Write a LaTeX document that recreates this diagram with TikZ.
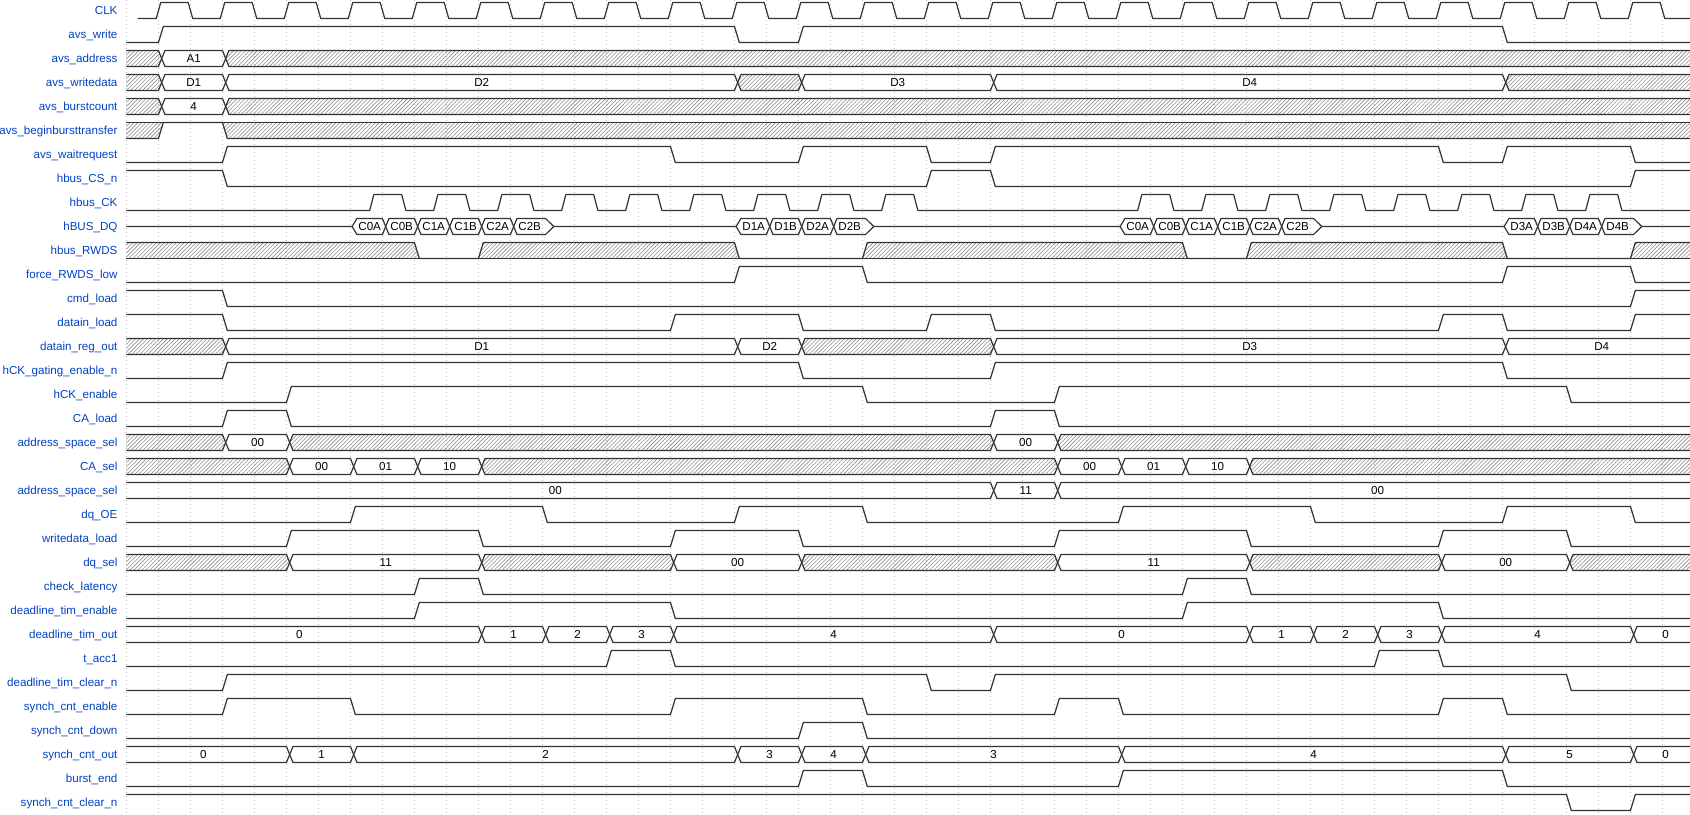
\documentclass[tikz,border=0pt]{standalone}
\usepackage{fontspec}
\setmainfont{Liberation Sans}
\usepackage{tikz}
\usetikzlibrary{patterns.meta}
\definecolor{wdblue}{HTML}{0041C4}

\begin{document}
\begin{tikzpicture}[x=16pt,y=-12pt,line join=round,
  wave/.style={draw=black!80,line width=0.6pt},
  hatch/.style={pattern={Lines[angle=45,distance=1.4pt,line width=0.3pt]},pattern color=black!45},
  gridln/.style={draw=black!25,line width=0.5pt,dash pattern=on 0.5pt off 1.5pt},
  lbl/.style={anchor=base east,inner sep=0pt,text=wdblue,font=\fontsize{5.8}{7}\selectfont},
  val/.style={anchor=base,inner sep=0pt,font=\fontsize{5.8}{7}\selectfont}]
  \useasboundingbox (-3.953,-0.4375) rectangle (48.86,33.52);
  \foreach \g in {0,...,48}
    \draw[gridln] (\g,-0.4375) -- (\g,33.52);
  \node[lbl] (lbl-CLK) at (-0.27,0.17) {CLK};
  \node[lbl] (lbl-avs_write) at (-0.27,1.17) {avs\_write};
  \node[lbl] (lbl-avs_address) at (-0.27,2.17) {avs\_address};
  \node[lbl] (lbl-avs_writedata) at (-0.27,3.17) {avs\_writedata};
  \node[lbl] (lbl-avs_burstcount) at (-0.27,4.17) {avs\_burstcount};
  \node[lbl] (lbl-avs_beginbursttransfer) at (-0.27,5.17) {avs\_beginbursttransfer};
  \node[lbl] (lbl-avs_waitrequest) at (-0.27,6.17) {avs\_waitrequest};
  \node[lbl] (lbl-hbus_CS_n) at (-0.27,7.17) {hbus\_CS\_n};
  \node[lbl] (lbl-hbus_CK) at (-0.27,8.17) {hbus\_CK};
  \node[lbl] (lbl-hBUS_DQ) at (-0.27,9.17) {hBUS\_DQ};
  \node[lbl] (lbl-hbus_RWDS) at (-0.27,10.17) {hbus\_RWDS};
  \node[lbl] (lbl-force_RWDS_low) at (-0.27,11.17) {force\_RWDS\_low};
  \node[lbl] (lbl-cmd_load) at (-0.27,12.17) {cmd\_load};
  \node[lbl] (lbl-datain_load) at (-0.27,13.17) {datain\_load};
  \node[lbl] (lbl-datain_reg_out) at (-0.27,14.17) {datain\_reg\_out};
  \node[lbl] (lbl-hCK_gating_enable_n) at (-0.27,15.17) {hCK\_gating\_enable\_n};
  \node[lbl] (lbl-hCK_enable) at (-0.27,16.17) {hCK\_enable};
  \node[lbl] (lbl-CA_load) at (-0.27,17.17) {CA\_load};
  \node[lbl] (lbl-address_space_sel-a) at (-0.27,18.17) {address\_space\_sel};
  \node[lbl] (lbl-CA_sel) at (-0.27,19.17) {CA\_sel};
  \node[lbl] (lbl-address_space_sel-b) at (-0.27,20.17) {address\_space\_sel};
  \node[lbl] (lbl-dq_OE) at (-0.27,21.17) {dq\_OE};
  \node[lbl] (lbl-writedata_load) at (-0.27,22.17) {writedata\_load};
  \node[lbl] (lbl-dq_sel) at (-0.27,23.17) {dq\_sel};
  \node[lbl] (lbl-check_latency) at (-0.27,24.17) {check\_latency};
  \node[lbl] (lbl-deadline_tim_enable) at (-0.27,25.17) {deadline\_tim\_enable};
  \node[lbl] (lbl-deadline_tim_out) at (-0.27,26.17) {deadline\_tim\_out};
  \node[lbl] (lbl-t_acc1) at (-0.27,27.17) {t\_acc1};
  \node[lbl] (lbl-deadline_tim_clear_n) at (-0.27,28.17) {deadline\_tim\_clear\_n};
  \node[lbl] (lbl-synch_cnt_enable) at (-0.27,29.17) {synch\_cnt\_enable};
  \node[lbl] (lbl-synch_cnt_down) at (-0.27,30.17) {synch\_cnt\_down};
  \node[lbl] (lbl-synch_cnt_out) at (-0.27,31.17) {synch\_cnt\_out};
  \node[lbl] (lbl-burst_end) at (-0.27,32.17) {burst\_end};
  \node[lbl] (lbl-synch_cnt_clear_n) at (-0.27,33.17) {synch\_cnt\_clear\_n};
  \fill[hatch] (0,1.67) -- (1,1.67) -- (1.1,2) -- (1,2.33) -- (0,2.33) -- cycle;
  \fill[hatch] (3.1,2) -- (3.2,1.67) -- (48.86,1.67) -- (48.86,2.33) -- (3.2,2.33) -- cycle;
  \fill[hatch] (0,2.67) -- (1,2.67) -- (1.1,3) -- (1,3.33) -- (0,3.33) -- cycle;
  \fill[hatch] (19.1,3) -- (19.2,2.67) -- (21,2.67) -- (21.1,3) -- (21,3.33) -- (19.2,3.33) -- cycle;
  \fill[hatch] (43.1,3) -- (43.2,2.67) -- (48.86,2.67) -- (48.86,3.33) -- (43.2,3.33) -- cycle;
  \fill[hatch] (0,3.67) -- (1,3.67) -- (1.1,4) -- (1,4.33) -- (0,4.33) -- cycle;
  \fill[hatch] (3.1,4) -- (3.2,3.67) -- (48.86,3.67) -- (48.86,4.33) -- (3.2,4.33) -- cycle;
  \fill[hatch] (0,4.67) -- (1.15,4.67) -- (1,5.33) -- (0,5.33) -- cycle;
  \fill[hatch] (3,4.67) -- (48.86,4.67) -- (48.86,5.33) -- (3.15,5.33) -- cycle;
  \fill[hatch] (0,9.67) -- (9,9.67) -- (9.15,10.33) -- (0,10.33) -- cycle;
  \fill[hatch] (11,10.33) -- (11.15,9.67) -- (19,9.67) -- (19.15,10.33) -- cycle;
  \fill[hatch] (23,10.33) -- (23.15,9.67) -- (33,9.67) -- (33.15,10.33) -- cycle;
  \fill[hatch] (35,10.33) -- (35.15,9.67) -- (43,9.67) -- (43.15,10.33) -- cycle;
  \fill[hatch] (47,10.33) -- (47.15,9.67) -- (48.86,9.67) -- (48.86,10.33) -- cycle;
  \fill[hatch] (0,13.67) -- (3,13.67) -- (3.1,14) -- (3,14.33) -- (0,14.33) -- cycle;
  \fill[hatch] (21.1,14) -- (21.2,13.67) -- (27,13.67) -- (27.1,14) -- (27,14.33) -- (21.2,14.33) -- cycle;
  \fill[hatch] (0,17.67) -- (3,17.67) -- (3.1,18) -- (3,18.33) -- (0,18.33) -- cycle;
  \fill[hatch] (5.1,18) -- (5.2,17.67) -- (27,17.67) -- (27.1,18) -- (27,18.33) -- (5.2,18.33) -- cycle;
  \fill[hatch] (29.1,18) -- (29.2,17.67) -- (48.86,17.67) -- (48.86,18.33) -- (29.2,18.33) -- cycle;
  \fill[hatch] (0,18.67) -- (5,18.67) -- (5.1,19) -- (5,19.33) -- (0,19.33) -- cycle;
  \fill[hatch] (11.1,19) -- (11.2,18.67) -- (29,18.67) -- (29.1,19) -- (29,19.33) -- (11.2,19.33) -- cycle;
  \fill[hatch] (35.1,19) -- (35.2,18.67) -- (48.86,18.67) -- (48.86,19.33) -- (35.2,19.33) -- cycle;
  \fill[hatch] (0,22.67) -- (5,22.67) -- (5.1,23) -- (5,23.33) -- (0,23.33) -- cycle;
  \fill[hatch] (11.1,23) -- (11.2,22.67) -- (17,22.67) -- (17.1,23) -- (17,23.33) -- (11.2,23.33) -- cycle;
  \fill[hatch] (21.1,23) -- (21.2,22.67) -- (29,22.67) -- (29.1,23) -- (29,23.33) -- (21.2,23.33) -- cycle;
  \fill[hatch] (35.1,23) -- (35.2,22.67) -- (41,22.67) -- (41.1,23) -- (41,23.33) -- (35.2,23.33) -- cycle;
  \fill[hatch] (45.1,23) -- (45.2,22.67) -- (48.86,22.67) -- (48.86,23.33) -- (45.2,23.33) -- cycle;
  \draw[wave] (0.35,0.33) foreach \k in {1,3,...,47} { -- (\k-0.07,0.33) -- (\k+0.07,-0.33) -- (\k+0.93,-0.33) -- (\k+1.07,0.33) } -- (48.86,0.33);
  \draw[wave] (0,1.33) -- (1,1.33) -- (1.15,0.67) -- (19,0.67) -- (19.15,1.33) -- (21,1.33) -- (21.15,0.67) -- (43,0.67) -- (43.15,1.33) -- (48.86,1.33);
  \draw[wave] (0,1.67) -- (1,1.67) -- (1.2,2.33) -- (3,2.33) -- (3.2,1.67) -- (48.86,1.67);
  \draw[wave] (0,2.33) -- (1,2.33) -- (1.2,1.67) -- (3,1.67) -- (3.2,2.33) -- (48.86,2.33);
  \draw[wave] (0,2.67) -- (1,2.67) -- (1.2,3.33) -- (3,3.33) -- (3.2,2.67) -- (19,2.67) -- (19.2,3.33) -- (21,3.33) -- (21.2,2.67) -- (27,2.67) -- (27.2,3.33) -- (43,3.33) -- (43.2,2.67) -- (48.86,2.67);
  \draw[wave] (0,3.33) -- (1,3.33) -- (1.2,2.67) -- (3,2.67) -- (3.2,3.33) -- (19,3.33) -- (19.2,2.67) -- (21,2.67) -- (21.2,3.33) -- (27,3.33) -- (27.2,2.67) -- (43,2.67) -- (43.2,3.33) -- (48.86,3.33);
  \draw[wave] (0,3.67) -- (1,3.67) -- (1.2,4.33) -- (3,4.33) -- (3.2,3.67) -- (48.86,3.67);
  \draw[wave] (0,4.33) -- (1,4.33) -- (1.2,3.67) -- (3,3.67) -- (3.2,4.33) -- (48.86,4.33);
  \draw[wave] (0,4.67) -- (48.86,4.67);
  \draw[wave] (0,5.33) -- (1,5.33) -- (1.15,4.67) -- (3,4.67) -- (3.15,5.33) -- (48.86,5.33);
  \draw[wave] (0,6.33) -- (3,6.33) -- (3.15,5.67) -- (17,5.67) -- (17.15,6.33) -- (21,6.33) -- (21.15,5.67) -- (25,5.67) -- (25.15,6.33) -- (27,6.33) -- (27.15,5.67) -- (41,5.67) -- (41.15,6.33) -- (43,6.33) -- (43.15,5.67) -- (47,5.67) -- (47.15,6.33) -- (48.86,6.33);
  \draw[wave] (0,6.67) -- (3,6.67) -- (3.15,7.33) -- (25,7.33) -- (25.15,6.67) -- (27,6.67) -- (27.15,7.33) -- (47,7.33) -- (47.15,6.67) -- (48.86,6.67);
  \draw[wave] (0,8.33) foreach \k in {7,9,...,23} { -- (\k+0.6,8.33) -- (\k+0.73,7.67) -- (\k+1.6,7.67) -- (\k+1.73,8.33) } foreach \k in {31,33,...,45} { -- (\k+0.6,8.33) -- (\k+0.73,7.67) -- (\k+1.6,7.67) -- (\k+1.73,8.33) } -- (48.86,8.33);
  \draw[wave] (0,9) -- (7.05,9) -- (7.2,8.67) -- (8,8.67) -- (8.2,9.33) -- (9,9.33) -- (9.2,8.67) -- (10,8.67) -- (10.2,9.33) -- (11,9.33) -- (11.2,8.67) -- (12,8.67) -- (12.2,9.33) -- (13.1,9.33) -- (13.35,9) -- (19.05,9) -- (19.2,8.67) -- (20,8.67) -- (20.2,9.33) -- (21,9.33) -- (21.2,8.67) -- (22,8.67) -- (22.2,9.33) -- (23.1,9.33) -- (23.35,9) -- (31.05,9) -- (31.2,8.67) -- (32,8.67) -- (32.2,9.33) -- (33,9.33) -- (33.2,8.67) -- (34,8.67) -- (34.2,9.33) -- (35,9.33) -- (35.2,8.67) -- (36,8.67) -- (36.2,9.33) -- (37.1,9.33) -- (37.35,9) -- (43.05,9) -- (43.2,8.67) -- (44,8.67) -- (44.2,9.33) -- (45,9.33) -- (45.2,8.67) -- (46,8.67) -- (46.2,9.33) -- (47.1,9.33) -- (47.35,9) -- (48.86,9);
  \draw[wave] (7.05,9) -- (7.2,9.33) -- (8,9.33) -- (8.2,8.67) -- (9,8.67) -- (9.2,9.33) -- (10,9.33) -- (10.2,8.67) -- (11,8.67) -- (11.2,9.33) -- (12,9.33) -- (12.2,8.67) -- (13.1,8.67) -- (13.35,9);
  \draw[wave] (19.05,9) -- (19.2,9.33) -- (20,9.33) -- (20.2,8.67) -- (21,8.67) -- (21.2,9.33) -- (22,9.33) -- (22.2,8.67) -- (23.1,8.67) -- (23.35,9);
  \draw[wave] (31.05,9) -- (31.2,9.33) -- (32,9.33) -- (32.2,8.67) -- (33,8.67) -- (33.2,9.33) -- (34,9.33) -- (34.2,8.67) -- (35,8.67) -- (35.2,9.33) -- (36,9.33) -- (36.2,8.67) -- (37.1,8.67) -- (37.35,9);
  \draw[wave] (43.05,9) -- (43.2,9.33) -- (44,9.33) -- (44.2,8.67) -- (45,8.67) -- (45.2,9.33) -- (46,9.33) -- (46.2,8.67) -- (47.1,8.67) -- (47.35,9);
  \draw[wave] (0,9.67) -- (9,9.67) -- (9.15,10.33) -- (11,10.33) -- (11.15,9.67) -- (19,9.67) -- (19.15,10.33) -- (23,10.33) -- (23.15,9.67) -- (33,9.67) -- (33.15,10.33) -- (35,10.33) -- (35.15,9.67) -- (43,9.67) -- (43.15,10.33) -- (47,10.33) -- (47.15,9.67) -- (48.86,9.67);
  \draw[wave] (0,10.33) -- (48.86,10.33);
  \draw[wave] (0,11.33) -- (19,11.33) -- (19.15,10.67) -- (23,10.67) -- (23.15,11.33) -- (43,11.33) -- (43.15,10.67) -- (47,10.67) -- (47.15,11.33) -- (48.86,11.33);
  \draw[wave] (0,11.67) -- (3,11.67) -- (3.15,12.33) -- (47,12.33) -- (47.15,11.67) -- (48.86,11.67);
  \draw[wave] (0,12.67) -- (3,12.67) -- (3.15,13.33) -- (17,13.33) -- (17.15,12.67) -- (21,12.67) -- (21.15,13.33) -- (25,13.33) -- (25.15,12.67) -- (27,12.67) -- (27.15,13.33) -- (41,13.33) -- (41.15,12.67) -- (43,12.67) -- (43.15,13.33) -- (47,13.33) -- (47.15,12.67) -- (48.86,12.67);
  \draw[wave] (0,13.67) -- (3,13.67) -- (3.2,14.33) -- (19,14.33) -- (19.2,13.67) -- (21,13.67) -- (21.2,14.33) -- (27,14.33) -- (27.2,13.67) -- (43,13.67) -- (43.2,14.33) -- (48.86,14.33);
  \draw[wave] (0,14.33) -- (3,14.33) -- (3.2,13.67) -- (19,13.67) -- (19.2,14.33) -- (21,14.33) -- (21.2,13.67) -- (27,13.67) -- (27.2,14.33) -- (43,14.33) -- (43.2,13.67) -- (48.86,13.67);
  \draw[wave] (0,15.33) -- (3,15.33) -- (3.15,14.67) -- (21,14.67) -- (21.15,15.33) -- (27,15.33) -- (27.15,14.67) -- (43,14.67) -- (43.15,15.33) -- (48.86,15.33);
  \draw[wave] (0,16.33) -- (5,16.33) -- (5.15,15.67) -- (23,15.67) -- (23.15,16.33) -- (29,16.33) -- (29.15,15.67) -- (45,15.67) -- (45.15,16.33) -- (48.86,16.33);
  \draw[wave] (0,17.33) -- (3,17.33) -- (3.15,16.67) -- (5,16.67) -- (5.15,17.33) -- (27,17.33) -- (27.15,16.67) -- (29,16.67) -- (29.15,17.33) -- (48.86,17.33);
  \draw[wave] (0,17.67) -- (3,17.67) -- (3.2,18.33) -- (5,18.33) -- (5.2,17.67) -- (27,17.67) -- (27.2,18.33) -- (29,18.33) -- (29.2,17.67) -- (48.86,17.67);
  \draw[wave] (0,18.33) -- (3,18.33) -- (3.2,17.67) -- (5,17.67) -- (5.2,18.33) -- (27,18.33) -- (27.2,17.67) -- (29,17.67) -- (29.2,18.33) -- (48.86,18.33);
  \draw[wave] (0,18.67) -- (5,18.67) -- (5.2,19.33) -- (7,19.33) -- (7.2,18.67) -- (9,18.67) -- (9.2,19.33) -- (11,19.33) -- (11.2,18.67) -- (29,18.67) -- (29.2,19.33) -- (31,19.33) -- (31.2,18.67) -- (33,18.67) -- (33.2,19.33) -- (35,19.33) -- (35.2,18.67) -- (48.86,18.67);
  \draw[wave] (0,19.33) -- (5,19.33) -- (5.2,18.67) -- (7,18.67) -- (7.2,19.33) -- (9,19.33) -- (9.2,18.67) -- (11,18.67) -- (11.2,19.33) -- (29,19.33) -- (29.2,18.67) -- (31,18.67) -- (31.2,19.33) -- (33,19.33) -- (33.2,18.67) -- (35,18.67) -- (35.2,19.33) -- (48.86,19.33);
  \draw[wave] (0,19.67) -- (27,19.67) -- (27.2,20.33) -- (29,20.33) -- (29.2,19.67) -- (48.86,19.67);
  \draw[wave] (0,20.33) -- (27,20.33) -- (27.2,19.67) -- (29,19.67) -- (29.2,20.33) -- (48.86,20.33);
  \draw[wave] (0,21.33) -- (7,21.33) -- (7.15,20.67) -- (13,20.67) -- (13.15,21.33) -- (19,21.33) -- (19.15,20.67) -- (23,20.67) -- (23.15,21.33) -- (31,21.33) -- (31.15,20.67) -- (37,20.67) -- (37.15,21.33) -- (43,21.33) -- (43.15,20.67) -- (47,20.67) -- (47.15,21.33) -- (48.86,21.33);
  \draw[wave] (0,22.33) -- (5,22.33) -- (5.15,21.67) -- (11,21.67) -- (11.15,22.33) -- (17,22.33) -- (17.15,21.67) -- (21,21.67) -- (21.15,22.33) -- (29,22.33) -- (29.15,21.67) -- (35,21.67) -- (35.15,22.33) -- (41,22.33) -- (41.15,21.67) -- (45,21.67) -- (45.15,22.33) -- (48.86,22.33);
  \draw[wave] (0,22.67) -- (5,22.67) -- (5.2,23.33) -- (11,23.33) -- (11.2,22.67) -- (17,22.67) -- (17.2,23.33) -- (21,23.33) -- (21.2,22.67) -- (29,22.67) -- (29.2,23.33) -- (35,23.33) -- (35.2,22.67) -- (41,22.67) -- (41.2,23.33) -- (45,23.33) -- (45.2,22.67) -- (48.86,22.67);
  \draw[wave] (0,23.33) -- (5,23.33) -- (5.2,22.67) -- (11,22.67) -- (11.2,23.33) -- (17,23.33) -- (17.2,22.67) -- (21,22.67) -- (21.2,23.33) -- (29,23.33) -- (29.2,22.67) -- (35,22.67) -- (35.2,23.33) -- (41,23.33) -- (41.2,22.67) -- (45,22.67) -- (45.2,23.33) -- (48.86,23.33);
  \draw[wave] (0,24.33) -- (9,24.33) -- (9.15,23.67) -- (11,23.67) -- (11.15,24.33) -- (33,24.33) -- (33.15,23.67) -- (35,23.67) -- (35.15,24.33) -- (48.86,24.33);
  \draw[wave] (0,25.33) -- (9,25.33) -- (9.15,24.67) -- (17,24.67) -- (17.15,25.33) -- (33,25.33) -- (33.15,24.67) -- (41,24.67) -- (41.15,25.33) -- (48.86,25.33);
  \draw[wave] (0,25.67) -- (11,25.67) -- (11.2,26.33) -- (13,26.33) -- (13.2,25.67) -- (15,25.67) -- (15.2,26.33) -- (17,26.33) -- (17.2,25.67) -- (27,25.67) -- (27.2,26.33) -- (35,26.33) -- (35.2,25.67) -- (37,25.67) -- (37.2,26.33) -- (39,26.33) -- (39.2,25.67) -- (41,25.67) -- (41.2,26.33) -- (47,26.33) -- (47.2,25.67) -- (48.86,25.67);
  \draw[wave] (0,26.33) -- (11,26.33) -- (11.2,25.67) -- (13,25.67) -- (13.2,26.33) -- (15,26.33) -- (15.2,25.67) -- (17,25.67) -- (17.2,26.33) -- (27,26.33) -- (27.2,25.67) -- (35,25.67) -- (35.2,26.33) -- (37,26.33) -- (37.2,25.67) -- (39,25.67) -- (39.2,26.33) -- (41,26.33) -- (41.2,25.67) -- (47,25.67) -- (47.2,26.33) -- (48.86,26.33);
  \draw[wave] (0,27.33) -- (15,27.33) -- (15.15,26.67) -- (17,26.67) -- (17.15,27.33) -- (39,27.33) -- (39.15,26.67) -- (41,26.67) -- (41.15,27.33) -- (48.86,27.33);
  \draw[wave] (0,28.33) -- (3,28.33) -- (3.15,27.67) -- (25,27.67) -- (25.15,28.33) -- (27,28.33) -- (27.15,27.67) -- (45,27.67) -- (45.15,28.33) -- (48.86,28.33);
  \draw[wave] (0,29.33) -- (3,29.33) -- (3.15,28.67) -- (7,28.67) -- (7.15,29.33) -- (17,29.33) -- (17.15,28.67) -- (23,28.67) -- (23.15,29.33) -- (29,29.33) -- (29.15,28.67) -- (31,28.67) -- (31.15,29.33) -- (41,29.33) -- (41.15,28.67) -- (43,28.67) -- (43.15,29.33) -- (48.86,29.33);
  \draw[wave] (0,30.33) -- (21,30.33) -- (21.15,29.67) -- (23,29.67) -- (23.15,30.33) -- (48.86,30.33);
  \draw[wave] (0,30.67) -- (5,30.67) -- (5.2,31.33) -- (7,31.33) -- (7.2,30.67) -- (19,30.67) -- (19.2,31.33) -- (21,31.33) -- (21.2,30.67) -- (23,30.67) -- (23.2,31.33) -- (31,31.33) -- (31.2,30.67) -- (43,30.67) -- (43.2,31.33) -- (47,31.33) -- (47.2,30.67) -- (48.86,30.67);
  \draw[wave] (0,31.33) -- (5,31.33) -- (5.2,30.67) -- (7,30.67) -- (7.2,31.33) -- (19,31.33) -- (19.2,30.67) -- (21,30.67) -- (21.2,31.33) -- (23,31.33) -- (23.2,30.67) -- (31,30.67) -- (31.2,31.33) -- (43,31.33) -- (43.2,30.67) -- (47,30.67) -- (47.2,31.33) -- (48.86,31.33);
  \draw[wave] (0,32.33) -- (21,32.33) -- (21.15,31.67) -- (23,31.67) -- (23.15,32.33) -- (31,32.33) -- (31.15,31.67) -- (43,31.67) -- (43.15,32.33) -- (48.86,32.33);
  \draw[wave] (0,32.67) -- (45,32.67) -- (45.15,33.33) -- (47,33.33) -- (47.15,32.67) -- (48.86,32.67);
  \node[val] (v2a) at (2.1,2.17) {A1};
  \node[val] (v3a) at (2.1,3.17) {D1};
  \node[val] (v3b) at (11.1,3.17) {D2};
  \node[val] (v3c) at (24.1,3.17) {D3};
  \node[val] (v3d) at (35.1,3.17) {D4};
  \node[val] (v4a) at (2.1,4.17) {4};
  \node[val] (v9a) at (7.6,9.17) {C0A};
  \node[val] (v9b) at (8.6,9.17) {C0B};
  \node[val] (v9c) at (9.6,9.17) {C1A};
  \node[val] (v9d) at (10.6,9.17) {C1B};
  \node[val] (v9e) at (11.6,9.17) {C2A};
  \node[val] (v9f) at (12.6,9.17) {C2B};
  \node[val] (v9g) at (19.6,9.17) {D1A};
  \node[val] (v9h) at (20.6,9.17) {D1B};
  \node[val] (v9i) at (21.6,9.17) {D2A};
  \node[val] (v9j) at (22.6,9.17) {D2B};
  \node[val] (v9k) at (31.6,9.17) {C0A};
  \node[val] (v9l) at (32.6,9.17) {C0B};
  \node[val] (v9m) at (33.6,9.17) {C1A};
  \node[val] (v9n) at (34.6,9.17) {C1B};
  \node[val] (v9o) at (35.6,9.17) {C2A};
  \node[val] (v9p) at (36.6,9.17) {C2B};
  \node[val] (v9q) at (43.6,9.17) {D3A};
  \node[val] (v9r) at (44.6,9.17) {D3B};
  \node[val] (v9s) at (45.6,9.17) {D4A};
  \node[val] (v9t) at (46.6,9.17) {D4B};
  \node[val] (v14a) at (11.1,14.17) {D1};
  \node[val] (v14b) at (20.1,14.17) {D2};
  \node[val] (v14c) at (35.1,14.17) {D3};
  \node[val] (v14d) at (46.1,14.17) {D4};
  \node[val] (v18a) at (4.1,18.17) {00};
  \node[val] (v18b) at (28.1,18.17) {00};
  \node[val] (v19a) at (6.1,19.17) {00};
  \node[val] (v19b) at (8.1,19.17) {01};
  \node[val] (v19c) at (10.1,19.17) {10};
  \node[val] (v19d) at (30.1,19.17) {00};
  \node[val] (v19e) at (32.1,19.17) {01};
  \node[val] (v19f) at (34.1,19.17) {10};
  \node[val] (v20a) at (13.4,20.17) {00};
  \node[val] (v20b) at (28.1,20.17) {11};
  \node[val] (v20c) at (39.1,20.17) {00};
  \node[val] (v23a) at (8.1,23.17) {11};
  \node[val] (v23b) at (19.1,23.17) {00};
  \node[val] (v23c) at (32.1,23.17) {11};
  \node[val] (v23d) at (43.1,23.17) {00};
  \node[val] (v26a) at (5.4,26.17) {0};
  \node[val] (v26b) at (12.1,26.17) {1};
  \node[val] (v26c) at (14.1,26.17) {2};
  \node[val] (v26d) at (16.1,26.17) {3};
  \node[val] (v26e) at (22.1,26.17) {4};
  \node[val] (v26f) at (31.1,26.17) {0};
  \node[val] (v26g) at (36.1,26.17) {1};
  \node[val] (v26h) at (38.1,26.17) {2};
  \node[val] (v26i) at (40.1,26.17) {3};
  \node[val] (v26j) at (44.1,26.17) {4};
  \node[val] (v26k) at (48.1,26.17) {0};
  \node[val] (v31a) at (2.4,31.17) {0};
  \node[val] (v31b) at (6.1,31.17) {1};
  \node[val] (v31c) at (13.1,31.17) {2};
  \node[val] (v31d) at (20.1,31.17) {3};
  \node[val] (v31e) at (22.1,31.17) {4};
  \node[val] (v31f) at (27.1,31.17) {3};
  \node[val] (v31g) at (37.1,31.17) {4};
  \node[val] (v31h) at (45.1,31.17) {5};
  \node[val] (v31i) at (48.1,31.17) {0};
\end{tikzpicture}
\end{document}
